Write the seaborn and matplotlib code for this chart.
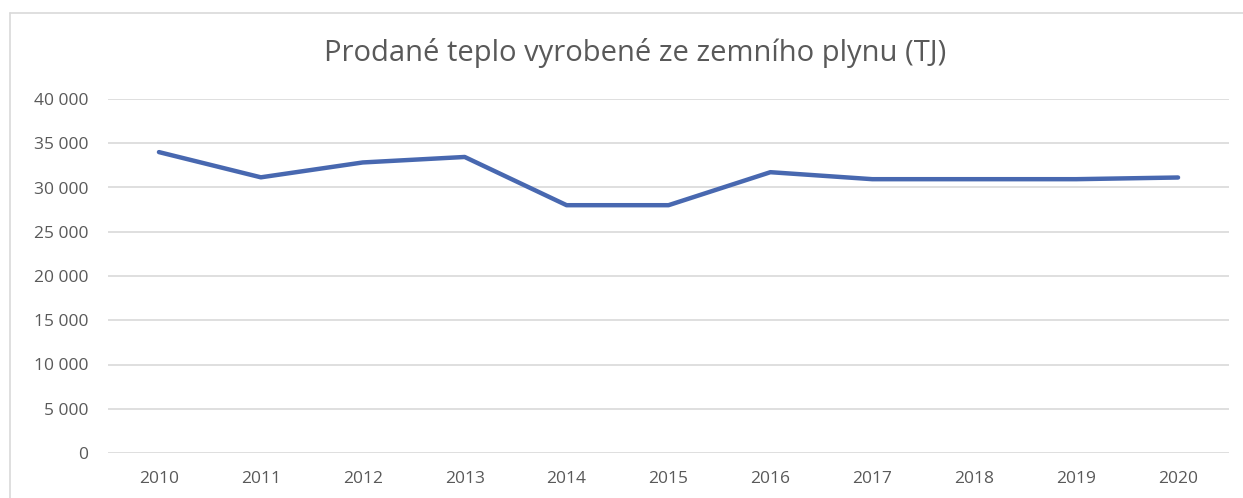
import matplotlib
matplotlib.use("Agg")
import matplotlib.pyplot as plt
from matplotlib.lines import Line2D
from matplotlib.ticker import FuncFormatter
import pandas as pd
import seaborn as sns

# data
years = ["2010", "2011", "2012", "2013", "2014", "2015",
         "2016", "2017", "2018", "2019", "2020"]
teplo_tj = [34000, 31150, 32830, 33450, 28000, 28000,
            31730, 30940, 30940, 30940, 31130]
title = "Prodané teplo vyrobené ze zemního plynu (TJ)"

df = pd.DataFrame({"rok": years, "TJ": teplo_tj})

sns.set_theme(style="white")
plt.rcParams['font.family'] = ['Open Sans', 'DejaVu Sans']

W, H = 1243, 498
fig = plt.figure(figsize=(W / 100, H / 100), dpi=100)
ax = fig.add_axes([108 / W, 1 - 453 / H, (1229 - 108) / W, (453 - 99) / H])

sns.lineplot(data=df, x="rok", y="TJ", ax=ax, color="#4868B0",
             linewidth=3.2, solid_capstyle="round", sort=False)

ax.set_xlim(-0.5, len(years) - 0.5)
ax.set_ylim(0, 40000)
ax.set_yticks(range(0, 40001, 5000))
ax.yaxis.set_major_formatter(FuncFormatter(lambda v, p: f"{int(v):,}".replace(",", " ")))
ax.grid(axis="y", color="#d9d9d9", linewidth=1.2)
ax.set_axisbelow(True)
for s in ax.spines.values():
    s.set_visible(False)
ax.set_xlabel("")
ax.set_ylabel("")
ax.tick_params(axis="both", length=0, labelsize=12.5, labelcolor="#595959")
ax.tick_params(axis="y", pad=14)
ax.tick_params(axis="x", pad=13)

fig.text(635 / W, 1 - 53 / H, title, ha="center", va="center",
         fontsize=21, color="#595959")

# outer chart border (light gray)
fig.add_artist(Line2D([10 / W, 1], [1 - 13 / H, 1 - 13 / H], color="#d9d9d9",
                      linewidth=1.2, transform=fig.transFigure))
fig.add_artist(Line2D([10 / W, 10 / W], [0, 1 - 13 / H], color="#d9d9d9",
                      linewidth=1.2, transform=fig.transFigure))

fig.savefig("out.png", dpi=100)
